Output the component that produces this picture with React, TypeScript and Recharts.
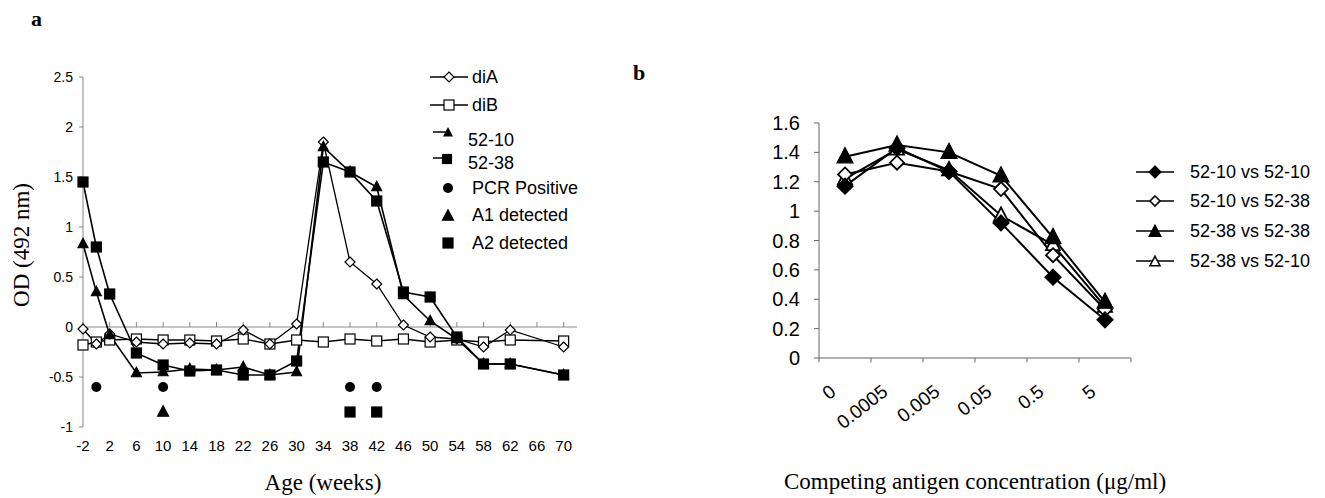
import { FC } from 'react'
import {
  ComposedChart,
  LineChart,
  Line,
  Scatter,
  XAxis,
  YAxis,
  ReferenceLine,
} from 'recharts'

// panel a: OD over age
const weeks = [-2, 0, 2, 6, 10, 14, 18, 22, 26, 30, 34, 38, 42, 46, 50, 54, 58, 62, 70]
const diA = [-0.02, -0.17, -0.07, -0.15, -0.17, -0.16, -0.17, -0.03, -0.17, 0.03, 1.85, 0.65, 0.43, 0.02, -0.1, -0.12, -0.2, -0.03, -0.2]
const diB = [-0.18, -0.15, -0.13, -0.12, -0.13, -0.13, -0.14, -0.12, -0.17, -0.13, -0.15, -0.12, -0.14, -0.12, -0.15, -0.13, -0.15, -0.13, -0.14]
const s5210 = [0.83, 0.35, -0.08, -0.46, -0.45, -0.42, -0.43, -0.4, -0.48, -0.45, 1.8, 1.55, 1.4, 0.32, 0.06, -0.12, -0.37, -0.37, -0.48]
const s5238 = [1.45, 0.8, 0.33, -0.26, -0.38, -0.44, -0.43, -0.48, -0.48, -0.34, 1.65, 1.55, 1.26, 0.35, 0.3, -0.1, -0.37, -0.37, -0.48]
const pcrWeeks = [0, 10, 38, 42]
const a1Weeks = [10]
const a2Weeks = [38, 42]
const pcrLevel = -0.6
const detectLevel = -0.85
const weekTicks = [-2, 2, 6, 10, 14, 18, 22, 26, 30, 34, 38, 42, 46, 50, 54, 58, 62, 66, 70]
const odTicks = [-1, -0.5, 0, 0.5, 1, 1.5, 2, 2.5]

// panel b: competition curves
const concLabels = ['0', '0.0005', '0.005', '0.05', '0.5', '5']
const v1010 = [1.17, 1.43, 1.27, 0.92, 0.55, 0.26]
const v1038 = [1.25, 1.33, 1.27, 1.15, 0.7, 0.33]
const v3838 = [1.37, 1.45, 1.4, 1.24, 0.82, 0.38]
const v3810 = [1.22, 1.42, 1.28, 0.97, 0.77, 0.35]
const bTicks = [0, 0.2, 0.4, 0.6, 0.8, 1, 1.2, 1.4, 1.6]

const rowsA = weeks.map((w, i) => ({ week: w, diA: diA[i], diB: diB[i], s5210: s5210[i], s5238: s5238[i] }))
const pcrPts = pcrWeeks.map((w) => ({ week: w, od: pcrLevel }))
const a1Pts = a1Weeks.map((w) => ({ week: w, od: detectLevel }))
const a2Pts = a2Weeks.map((w) => ({ week: w, od: detectLevel }))

const rowsB = concLabels.map((c, i) => ({ pos: i + 0.5, v1010: v1010[i], v1038: v1038[i], v3838: v3838[i], v3810: v3810[i] }))

const SANS = '"Liberation Sans", Arial, sans-serif'
const SERIF = '"Liberation Serif", "Times New Roman", serif'

type MarkProps = { cx?: number; cy?: number; r: number; fill: string; sw?: number }

const Diamond: FC<MarkProps> = ({ cx = 0, cy = 0, r, fill, sw = 1.2 }) => (
  <path d={`M${cx},${cy - r}L${cx + r},${cy}L${cx},${cy + r}L${cx - r},${cy}Z`} fill={fill} stroke="#000" strokeWidth={sw} />
)
const Square: FC<MarkProps> = ({ cx = 0, cy = 0, r, fill, sw = 1.2 }) => (
  <rect x={cx - r} y={cy - r} width={r * 2} height={r * 2} fill={fill} stroke="#000" strokeWidth={sw} />
)
const Triangle: FC<MarkProps> = ({ cx = 0, cy = 0, r, fill, sw = 1.2 }) => (
  <path d={`M${cx},${cy - r * 1.15}L${cx + r},${cy + r * 0.75}L${cx - r},${cy + r * 0.75}Z`} fill={fill} stroke="#000" strokeWidth={sw} />
)
const Circle: FC<MarkProps> = ({ cx = 0, cy = 0, r, fill }) => <circle cx={cx} cy={cy} r={r} fill={fill} />

const dotOf = (Mark: FC<MarkProps>, r: number, fill: string, sw?: number) => (p: any) => {
  if (p.cx == null || p.cy == null || p.value == null) return <g key={`e-${p.index}`} />
  return <Mark key={`m-${p.index}`} cx={p.cx} cy={p.cy} r={r} fill={fill} sw={sw} />
}

const RotTick = (props: any) => {
  const { x, y, payload } = props
  const label = concLabels[Math.floor(payload.value)]
  return (
    <g transform={`translate(${x - 8},${y + 28}) rotate(-38)`}>
      <text x={0} y={0} textAnchor="end" fontSize={19} fontFamily={SANS} fill="#000">
        {label}
      </text>
    </g>
  )
}

const LegendRow: FC<{ top: number; left: number; textLeft: number; line: boolean; children: any; label: string; size: number }> = ({
  top,
  left,
  textLeft,
  line,
  children,
  label,
  size,
}) => (
  <div style={{ position: 'absolute', top, left, height: 24, width: 320 }}>
    <svg width={44} height={24} style={{ position: 'absolute', left: 0, top: 0 }}>
      {line && <line x1={2} x2={40} y1={12} y2={12} stroke="#000" strokeWidth={1.5} />}
      {children}
    </svg>
    <span
      style={{
        position: 'absolute',
        left: textLeft,
        top: 0,
        lineHeight: '24px',
        fontSize: size,
        fontFamily: SANS,
        whiteSpace: 'nowrap',
      }}
    >
      {label}
    </span>
  </div>
)

const App: FC = () => {
  return (
    <div style={{ position: 'absolute', left: 0, top: 0, width: 1325, height: 498, background: '#fff', overflow: 'hidden' }}>
      <div style={{ position: 'absolute', left: 31, top: 6, fontFamily: SERIF, fontWeight: 'bold', fontSize: 22 }}>a</div>
      <div style={{ position: 'absolute', left: 633, top: 60, fontFamily: SERIF, fontWeight: 'bold', fontSize: 22 }}>b</div>

      {/* panel a */}
      <div style={{ position: 'absolute', left: 0, top: 0 }}>
        <ComposedChart width={600} height={498} data={rowsA} margin={{ top: 77, right: 23, bottom: 41, left: 43 }}>
          <XAxis
            dataKey="week"
            type="number"
            domain={[-2, 72]}
            ticks={weekTicks}
            axisLine={false}
            tickLine={false}
            tickMargin={7}
            height={30}
            tick={{ fontSize: 15, fontFamily: SANS, fill: '#000' }}
          />
          <YAxis
            type="number"
            domain={[-1, 2.5]}
            ticks={odTicks}
            width={40}
            axisLine={{ stroke: '#888' }}
            tickLine={{ stroke: '#888' }}
            tickSize={4}
            tickMargin={6}
            tick={{ fontSize: 14, fontFamily: SANS, fill: '#000' }}
          />
          <ReferenceLine y={0} stroke="#888" />
          {weekTicks.map((t) => (
            <ReferenceLine
              key={`zt-${t}`}
              segment={[
                { x: t, y: 0 },
                { x: t, y: 0.05 },
              ]}
              stroke="#888"
            />
          ))}
          <Line dataKey="diB" stroke="#000" strokeWidth={1.3} isAnimationActive={false} dot={dotOf(Square, 5, '#fff')} />
          <Line dataKey="diA" stroke="#000" strokeWidth={1.3} isAnimationActive={false} dot={dotOf(Diamond, 5, '#fff')} />
          <Line dataKey="s5210" stroke="#000" strokeWidth={1.6} isAnimationActive={false} dot={dotOf(Triangle, 5, '#000')} />
          <Line dataKey="s5238" stroke="#000" strokeWidth={1.6} isAnimationActive={false} dot={dotOf(Square, 5, '#000')} />
          <Scatter data={pcrPts} dataKey="od" isAnimationActive={false} shape={(p: any) => <Circle cx={p.cx} cy={p.cy} r={5} fill="#000" />} />
          <Scatter data={a1Pts} dataKey="od" isAnimationActive={false} shape={(p: any) => <Triangle cx={p.cx} cy={p.cy} r={5.5} fill="#000" />} />
          <Scatter data={a2Pts} dataKey="od" isAnimationActive={false} shape={(p: any) => <Square cx={p.cx} cy={p.cy} r={5} fill="#000" />} />
        </ComposedChart>
      </div>
      <div
        style={{
          position: 'absolute',
          left: 22,
          top: 245,
          transform: 'translate(-50%,-50%) rotate(-90deg)',
          fontFamily: SERIF,
          fontSize: 23,
          whiteSpace: 'nowrap',
        }}
      >
        OD (492 nm)
      </div>
      <div style={{ position: 'absolute', left: 323, top: 483, transform: 'translate(-50%,-50%)', fontFamily: SERIF, fontSize: 23, whiteSpace: 'nowrap' }}>
        Age (weeks)
      </div>

      {/* legend a */}
      <LegendRow top={65} left={428} textLeft={44} line={true} label="diA" size={18}>
        <Diamond cx={21} cy={12} r={5} fill="#fff" />
      </LegendRow>
      <LegendRow top={93} left={428} textLeft={44} line={true} label="diB" size={18}>
        <Square cx={21} cy={12} r={5} fill="#fff" />
      </LegendRow>
      <div style={{ position: 'absolute', top: 124, left: 428 }}>
        <svg width={30} height={20}>
          <line x1={5} x2={20} y1={8} y2={8} stroke="#000" strokeWidth={1.5} />
          <Triangle cx={20} cy={9} r={4} fill="#000" />
        </svg>
      </div>
      <div style={{ position: 'absolute', top: 128, left: 468, fontSize: 18, fontFamily: SANS, lineHeight: '24px' }}>52-10</div>
      <div style={{ position: 'absolute', top: 150, left: 428 }}>
        <svg width={30} height={20}>
          <line x1={5} x2={20} y1={8} y2={8} stroke="#000" strokeWidth={1.5} />
          <Square cx={19} cy={9} r={4.5} fill="#000" />
        </svg>
      </div>
      <div style={{ position: 'absolute', top: 151, left: 468, fontSize: 18, fontFamily: SANS, lineHeight: '24px' }}>52-38</div>
      <LegendRow top={176} left={428} textLeft={44} line={false} label="PCR Positive" size={18}>
        <Circle cx={20} cy={12} r={5} fill="#000" />
      </LegendRow>
      <LegendRow top={203} left={428} textLeft={44} line={false} label="A1 detected" size={18}>
        <Triangle cx={20} cy={13} r={5.5} fill="#000" />
      </LegendRow>
      <LegendRow top={231} left={428} textLeft={44} line={false} label="A2 detected" size={18}>
        <Square cx={20} cy={12} r={5} fill="#000" />
      </LegendRow>

      {/* panel b */}
      <div style={{ position: 'absolute', left: 700, top: 0 }}>
        <LineChart width={440} height={498} data={rowsB} margin={{ top: 123, right: 9, bottom: 70, left: 59 }}>
          <XAxis
            dataKey="pos"
            type="number"
            domain={[0, 6]}
            ticks={[0.5, 1.5, 2.5, 3.5, 4.5, 5.5]}
            axisLine={{ stroke: '#666' }}
            tickLine={false}
            height={70}
            tick={<RotTick />}
          />
          <YAxis
            type="number"
            domain={[0, 1.6]}
            ticks={bTicks}
            width={60}
            axisLine={{ stroke: '#666' }}
            tickLine={{ stroke: '#666' }}
            tickSize={5}
            tickMargin={14}
            tick={{ fontSize: 20, fontFamily: SANS, fill: '#000' }}
          />
          {[0, 1, 2, 3, 4, 5, 6].map((t) => (
            <ReferenceLine
              key={`bt-${t}`}
              segment={[
                { x: t, y: 0 },
                { x: t, y: -0.03 },
              ]}
              stroke="#666"
              ifOverflow="visible"
            />
          ))}
          <Line dataKey="v3810" stroke="#000" strokeWidth={2} isAnimationActive={false} dot={dotOf(Triangle, 7, '#fff', 1.8)} />
          <Line dataKey="v1038" stroke="#000" strokeWidth={2} isAnimationActive={false} dot={dotOf(Diamond, 7, '#fff', 1.8)} />
          <Line dataKey="v3838" stroke="#000" strokeWidth={2} isAnimationActive={false} dot={dotOf(Triangle, 8, '#000')} />
          <Line dataKey="v1010" stroke="#000" strokeWidth={2} isAnimationActive={false} dot={dotOf(Diamond, 8, '#000')} />
        </LineChart>
      </div>
      <div style={{ position: 'absolute', left: 975, top: 482, transform: 'translate(-50%,-50%)', fontFamily: SERIF, fontSize: 23, whiteSpace: 'nowrap' }}>
        Competing antigen concentration (μg/ml)
      </div>

      {/* legend b */}
      <LegendRow top={160} left={1134} textLeft={56} line={true} label="52-10 vs 52-10" size={18}>
        <Diamond cx={21} cy={12} r={6} fill="#000" />
      </LegendRow>
      <LegendRow top={189} left={1134} textLeft={56} line={true} label="52-10 vs 52-38" size={18}>
        <Diamond cx={21} cy={12} r={5} fill="#fff" sw={1.6} />
      </LegendRow>
      <LegendRow top={219} left={1134} textLeft={56} line={true} label="52-38 vs 52-38" size={18}>
        <Triangle cx={21} cy={13} r={6} fill="#000" />
      </LegendRow>
      <LegendRow top={249} left={1134} textLeft={56} line={true} label="52-38 vs 52-10" size={18}>
        <Triangle cx={21} cy={13} r={5} fill="#fff" sw={1.6} />
      </LegendRow>
    </div>
  )
}

export default App
